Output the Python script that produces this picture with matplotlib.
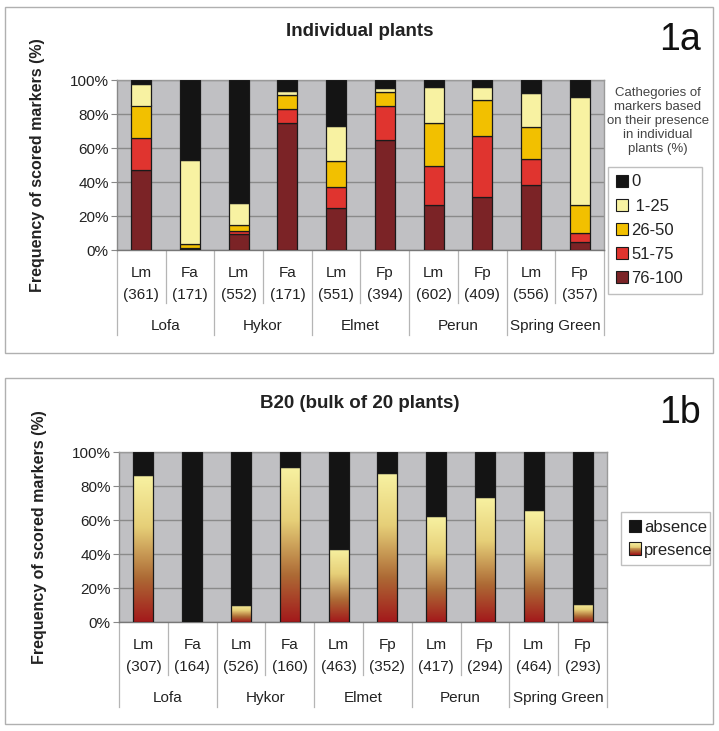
# Stacked bars of scored markers: individual plants (1a) and bulk of 20 plants (1b)
import numpy as np
import matplotlib
matplotlib.use('Agg')
import matplotlib.pyplot as plt
from matplotlib.patches import Patch, Rectangle
from matplotlib.colors import LinearSegmentedColormap
from matplotlib.legend_handler import HandlerBase
from matplotlib.transforms import blended_transform_factory

plt.rcParams['font.family'] = ['Liberation Sans', 'DejaVu Sans']

# data
groups = ['Lofa', 'Hykor', 'Elmet', 'Perun', 'Spring Green']
species = ['Lm', 'Fa', 'Lm', 'Fa', 'Lm', 'Fp', 'Lm', 'Fp', 'Lm', 'Fp']
n_plants = [361, 171, 552, 171, 551, 394, 602, 409, 556, 357]
n_bulk = [307, 164, 526, 160, 463, 352, 417, 294, 464, 293]

cat_labels = ['76-100', '51-75', '26-50', ' 1-25', '0']
v_76_100 = [47, 0.5, 9.5, 75, 24.5, 65, 26.5, 31, 38.5, 4.5]
v_51_75 = [19, 0.5, 1.5, 8, 12.5, 20, 23, 36, 15, 5.5]
v_26_50 = [19, 2.5, 4, 8, 15.5, 8, 25, 21, 19, 16.5]
v_1_25 = [12.5, 49.5, 12.5, 2.5, 20.5, 2.5, 21.5, 8, 20, 63.5]
v_0 = [2.5, 47, 72.5, 6.5, 27, 4.5, 4, 4, 7.5, 10]

presence = [86.3, 0, 10.2, 91.2, 43.2, 87.6, 62.2, 73.5, 65.7, 10.8]
absence = [100 - p for p in presence]

cat_colors = ['#7b2326', '#e0342f', '#f2c000', '#f8f2a2', '#141414']
grad = LinearSegmentedColormap.from_list(
    'pres', [(0, '#a3191b'), (0.3, '#ad6a35'), (0.65, '#e6cf78'), (1, '#f8f2a2')])

BG = '#c0c0c3'
EDGE = '#1a1a1a'
TXT = '#222222'
W = 0.41

fig = plt.figure(figsize=(7.19, 7.31), dpi=100)

# light frames around each panel
for y0, y1 in [(7, 353), (378, 724)]:
    fig.patches.append(Rectangle((5 / 719, 1 - y1 / 731), 708 / 719, (y1 - y0) / 731,
                                 transform=fig.transFigure, fill=False,
                                 edgecolor='#b0b0b0', lw=1.0))


def style_axis(ax, counts):
    x = np.arange(len(species))
    ax.set_facecolor(BG)
    ax.set_xlim(-0.5, len(species) - 0.5)
    ax.set_ylim(0, 100)
    ax.set_yticks([0, 20, 40, 60, 80, 100])
    ax.set_yticklabels(['0%', '20%', '40%', '60%', '80%', '100%'])
    ax.yaxis.grid(True, color='#8a8a8a', lw=1.0)
    ax.set_axisbelow(True)
    ax.set_xticks([])
    ax.tick_params(axis='y', length=4, color='#888888', labelsize=11, labelcolor=TXT, pad=2)
    for s in ['top', 'right']:
        ax.spines[s].set_color('#9a9a9a')
    ax.spines['left'].set_color('#888888')
    ax.spines['bottom'].set_color('#777777')
    for s in ax.spines.values():
        s.set_linewidth(1.0)
    ax.set_ylabel('Frequency of scored markers (%)', fontsize=11.5, fontweight='bold',
                  color=TXT, labelpad=18)

    # multi-level category axis
    tr = blended_transform_factory(ax.transData, ax.transAxes)
    for i in x:
        ax.text(i, -0.135, species[i], transform=tr, ha='center', va='center',
                fontsize=11, color=TXT)
        ax.text(i, -0.265, '(%d)' % counts[i], transform=tr, ha='center', va='center',
                fontsize=11, color=TXT)
    for g, name in enumerate(groups):
        ax.text(2 * g + 0.5, -0.445, name, transform=tr, ha='center', va='center',
                fontsize=11, color=TXT)
    for k in range(len(species) + 1):
        end = -0.5 if k % 2 == 0 else -0.31
        ax.plot([k - 0.5, k - 0.5], [0, end], transform=tr, color='#b5b5b5',
                lw=0.9, clip_on=False)
    return x


# ---- panel 1a
ax1 = fig.add_axes([117 / 719, 1 - 250 / 731, 487 / 719, 170 / 731])
x = style_axis(ax1, n_plants)
bottom = np.zeros(len(species))
for vals, col, lab in zip([v_76_100, v_51_75, v_26_50, v_1_25, v_0], cat_colors, cat_labels):
    ax1.bar(x, vals, W, bottom=bottom, color=col, edgecolor=EDGE, lw=0.9, label=lab, zorder=3)
    bottom += np.array(vals)

fig.text(360 / 719, 1 - 32 / 731, 'Individual plants', ha='center', va='center',
         fontsize=13.5, fontweight='bold', color=TXT)
fig.text(680 / 719, 1 - 40 / 731, '1a', ha='center', va='center', fontsize=27, color='#111111')
fig.text(658 / 719, 1 - 121 / 731,
         'Cathegories of\nmarkers based\non their presence\nin individual\nplants (%)',
         ha='center', va='center', fontsize=9.5, color='#444444', linespacing=1.2)

h1 = [Patch(facecolor=c, edgecolor=EDGE, lw=0.8) for c in cat_colors][::-1]
leg1 = fig.legend(h1, cat_labels[::-1], loc='upper left',
                  bbox_to_anchor=(608 / 719, 1 - 167 / 731 - 0.01, 94 / 719, 0.01), mode='expand',
                  frameon=True, fancybox=False, edgecolor='#b0b0b0', fontsize=12,
                  handlelength=0.75, handleheight=0.75, handletextpad=0.2,
                  labelspacing=0.55, borderpad=0.45, borderaxespad=0)
leg1.get_frame().set_linewidth(1.0)
for t in leg1.get_texts():
    t.set_color(TXT)

# ---- panel 1b
ax2 = fig.add_axes([119 / 719, 1 - 622 / 731, 488 / 719, 170 / 731])
x = style_axis(ax2, n_bulk)
col_img = np.linspace(0, 1, 256).reshape(-1, 1)
for i, p in zip(x, presence):
    if p > 0:
        ax2.imshow(col_img, extent=(i - W / 2, i + W / 2, 0, p), origin='lower',
                   aspect='auto', cmap=grad, zorder=3)
        ax2.bar(i, p, W, fill=False, edgecolor=EDGE, lw=0.9, zorder=4)
ax2.bar(x, absence, W, bottom=presence, color='#141414', edgecolor=EDGE, lw=0.9, zorder=4)
ax2.set_xlim(-0.5, len(species) - 0.5)
ax2.set_ylim(0, 100)

fig.text(360 / 719, 1 - 403 / 731, 'B20 (bulk of 20 plants)', ha='center', va='center',
         fontsize=13.5, fontweight='bold', color=TXT)
fig.text(680 / 719, 1 - 413 / 731, '1b', ha='center', va='center', fontsize=27, color='#111111')


class GradHandler(HandlerBase):
    def create_artists(self, legend, orig, xd, yd, width, height, fontsize, trans):
        n = 14
        arts = []
        for k in range(n):
            arts.append(Rectangle((xd, yd + height * k / n), width, height / n + 0.2,
                                  facecolor=grad(k / (n - 1)), edgecolor='none', transform=trans))
        arts.append(Rectangle((xd, yd), width, height, fill=False, edgecolor=EDGE,
                              lw=0.8, transform=trans))
        return arts


h_abs = Patch(facecolor='#141414', edgecolor=EDGE, lw=0.8)
h_pres = Patch(facecolor='none')
leg2 = fig.legend([h_abs, h_pres], ['absence', 'presence'], loc='upper left',
                  bbox_to_anchor=(621 / 719, 1 - 512 / 731 - 0.01, 89 / 719, 0.01), mode='expand',
                  handler_map={h_pres: GradHandler()},
                  frameon=True, fancybox=False, edgecolor='#b0b0b0', fontsize=12,
                  handlelength=0.75, handleheight=0.75, handletextpad=0.2,
                  labelspacing=0.5, borderpad=0.45, borderaxespad=0)
leg2.get_frame().set_linewidth(1.0)
for t in leg2.get_texts():
    t.set_color(TXT)

fig.savefig('out.png', dpi=100, facecolor='white')
